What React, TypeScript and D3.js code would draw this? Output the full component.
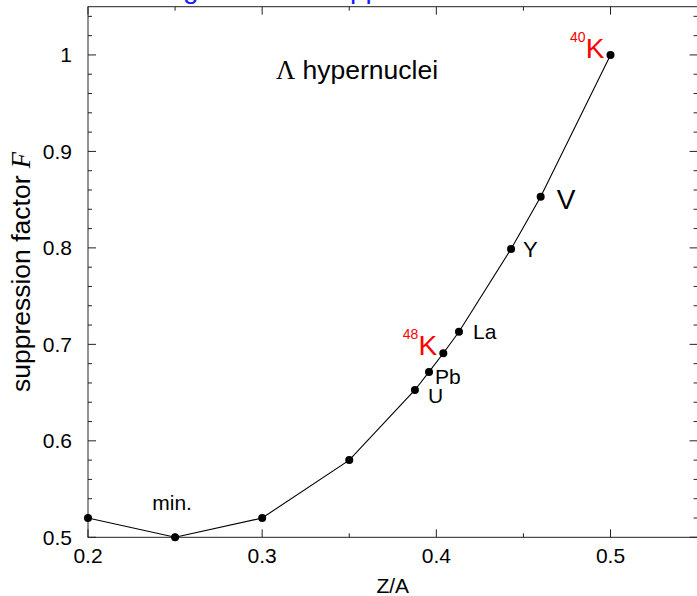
import React from "react";
import * as d3 from "d3";

const zOverA = [0.2, 0.25, 0.3, 0.35, 0.3877, 0.3958, 0.404, 0.413, 0.4429, 0.4599, 0.5];
const suppression = [0.52, 0.5, 0.52, 0.58, 0.6527, 0.6714, 0.6908, 0.7131, 0.7989, 0.8531, 1.0];
const xMajorTicks = [0.2, 0.3, 0.4, 0.5];
const xMinorTicks = [0.25, 0.35, 0.45, 0.55];
const yMajorTicks = [0.5, 0.6, 0.7, 0.8, 0.9, 1.0];
const yTickLabels = ["0.5", "0.6", "0.7", "0.8", "0.9", "1"];
const xTickLabels = ["0.2", "0.3", "0.4", "0.5"];

// plain labels: [point index, text, dx, dy, font size]
const plainLabels: [number, string, number, number, number][] = [
  [1, "min.", -3, -27, 21],
  [4, "U", 13, 13, 21],
  [5, "Pb", 6, 12, 21],
  [7, "La", 14, 7, 21],
  [8, "Y", 12, 8, 22],
  [9, "V", 16, 12, 28],
];
// isotope labels: [point index, mass number, element, dx, dy]
const isotopeLabels: [number, string, string, number, number][] = [
  [6, "48", "K", -6, 2],
  [10, "40", "K", -6, 3],
];

const W = 697;
const H = 596;
const sans = "'Liberation Sans', Arial, Helvetica, sans-serif";
const serif = "'Liberation Serif', 'Times New Roman', serif";

export default function App() {
  const x = d3.scaleLinear().domain([0.2, 0.55]).range([88, 697.6]);
  const y = d3.scaleLinear().domain([0.5, 1.05]).range([537.3, 6.7]);
  const yMinor = d3.range(0.52, 1.05, 0.02).map((v) => +v.toFixed(2)).filter((v) => !yMajorTicks.some((m) => Math.abs(m - v) < 1e-6));
  const pts = zOverA.map((z, i) => [x(z), y(suppression[i])] as [number, number]);
  const line = d3.line()(pts) || "";
  const [x0, x1] = x.range();
  const [y0, y1] = y.range();
  const axisColor = "#222";

  return (
    <svg width={W} height={H} style={{ position: "absolute", left: 0, top: 0, background: "#fff" }}>
      <rect x={0} y={0} width={W} height={H} fill="#fff" />
      {/* partially cropped blue heading */}
      <text x={183} y={-2} fill="#1a1aff" fontFamily={sans} fontSize={28}>g</text>
      <text x={350} y={-2} fill="#1a1aff" fontFamily={sans} fontSize={28}>pp</text>

      {/* frame */}
      <rect x={x0} y={y1} width={x1 - x0} height={y0 - y1} fill="none" stroke={axisColor} strokeWidth={1} />

      {/* x ticks bottom & top */}
      {xMajorTicks.map((t) => (
        <g key={"xm" + t}>
          <line x1={x(t)} x2={x(t)} y1={y0} y2={y0 - 8} stroke={axisColor} />
          <line x1={x(t)} x2={x(t)} y1={y1} y2={y1 + 8} stroke={axisColor} />
        </g>
      ))}
      {xMinorTicks.map((t) => (
        <g key={"xn" + t}>
          <line x1={x(t)} x2={x(t)} y1={y0} y2={y0 - 4} stroke={axisColor} />
          <line x1={x(t)} x2={x(t)} y1={y1} y2={y1 + 4} stroke={axisColor} />
        </g>
      ))}
      {/* y ticks left & right */}
      {yMajorTicks.map((t) => (
        <g key={"ym" + t}>
          <line x1={x0} x2={x0 + 8} y1={y(t)} y2={y(t)} stroke={axisColor} />
          <line x1={x1} x2={x1 - 8} y1={y(t)} y2={y(t)} stroke={axisColor} />
        </g>
      ))}
      {yMinor.map((t) => (
        <g key={"yn" + t}>
          <line x1={x0} x2={x0 + 4} y1={y(t)} y2={y(t)} stroke={axisColor} />
          <line x1={x1} x2={x1 - 4} y1={y(t)} y2={y(t)} stroke={axisColor} />
        </g>
      ))}

      {/* tick labels */}
      {xMajorTicks.map((t, i) => (
        <text key={"xl" + t} x={x(t)} y={563} textAnchor="middle" fontFamily={sans} fontSize={21} fill="#000">
          {xTickLabels[i]}
        </text>
      ))}
      {yMajorTicks.map((t, i) => (
        <text key={"yl" + t} x={72} y={y(t) + 7.5} textAnchor="end" fontFamily={sans} fontSize={21} fill="#000">
          {yTickLabels[i]}
        </text>
      ))}

      {/* axis titles */}
      <text x={(x0 + x1) / 2} y={593} textAnchor="middle" fontFamily={sans} fontSize={21} fill="#000">Z/A</text>
      <text transform={`translate(30,${(y0 + y1) / 2}) rotate(-90)`} textAnchor="middle" fontFamily={sans} fontSize={26.5} fill="#000">
        suppression factor <tspan fontFamily={serif} fontStyle="italic">F</tspan>
      </text>

      {/* in-plot title */}
      <text x={276} y={79} fontFamily={sans} fontSize={26.5} fill="#000">
        <tspan fontFamily={serif}>Λ</tspan> hypernuclei
      </text>

      {/* data line and points */}
      <path d={line} fill="none" stroke="#000" strokeWidth={1.1} />
      {pts.map((p, i) => (
        <circle key={"pt" + i} cx={p[0]} cy={p[1]} r={4} fill="#000" />
      ))}

      {/* labels */}
      {plainLabels.map(([idx, txt, dx, dy, fs]) => (
        <text key={"lb" + idx} x={pts[idx][0] + dx} y={pts[idx][1] + dy} textAnchor={idx === 1 ? "middle" : "start"} fontFamily={sans} fontSize={fs} fill="#000">
          {txt}
        </text>
      ))}
      {isotopeLabels.map(([idx, mass, el, dx, dy]) => {
        const kx = pts[idx][0] + dx;
        const ky = pts[idx][1] + dy;
        return (
          <g key={"iso" + idx}>
            <text x={kx} y={ky} textAnchor="end" fontFamily={sans} fontSize={28} fill="#ff0000">{el}</text>
            <text x={kx - 19} y={ky - 16} textAnchor="end" fontFamily={sans} fontSize={14} fill="#ff0000">{mass}</text>
          </g>
        );
      })}
    </svg>
  );
}
